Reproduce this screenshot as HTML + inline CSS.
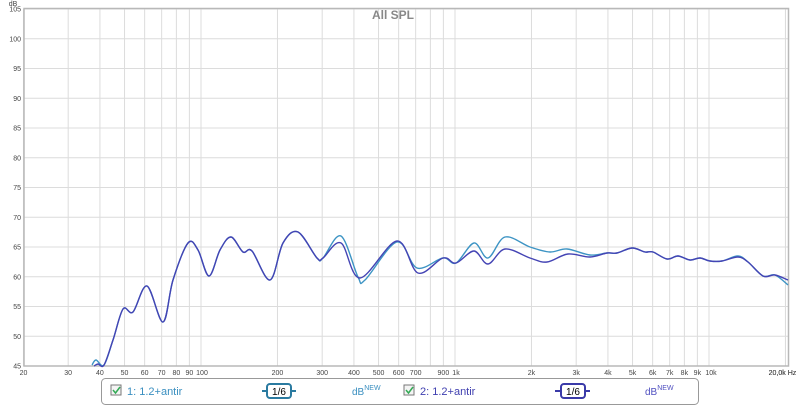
<!DOCTYPE html>
<html><head><meta charset="utf-8"><style>
html,body{margin:0;padding:0;background:#fff;width:800px;height:406px;overflow:hidden}
svg{display:block;font-family:"Liberation Sans",sans-serif}
</style></head><body>
<svg id="s" width="800" height="406" viewBox="0 0 800 406" xmlns="http://www.w3.org/2000/svg">
<rect x="0" y="0" width="800" height="406" fill="#fff"/>
<g id="grid"></g>
<rect x="24" y="8.5" width="764.5" height="357.5" fill="none" stroke="#b8b8b8" stroke-width="1.5"/>
<text x="393" y="19" font-size="12" font-weight="bold" fill="#888" text-anchor="middle">All SPL</text>
<text x="13" y="6" font-size="7" fill="#444" text-anchor="middle">dB</text>
<g id="lbl" font-size="7" fill="#444"></g>
<path id="c1" fill="none" stroke="#3d94c4" stroke-width="1.4"/>
<path id="c2" fill="none" stroke="#4444b4" stroke-width="1.4"/>
<rect x="101.5" y="378.5" width="597" height="26" rx="4" fill="#fff" stroke="#999"/>
<rect x="111" y="385" width="10" height="10" fill="#f4f4f4" stroke="#777"/>
<path d="M113 390 l2.5 3 l4.5 -6" stroke="#3a5" fill="none" stroke-width="1.5"/>
<text x="127" y="395" font-size="11" fill="#3a8fc0">1: 1.2+antir</text>
<line x1="262" y1="391" x2="296" y2="391" stroke="#2a7aa0" stroke-width="2"/>
<rect x="267" y="384" width="24" height="14" rx="3" fill="#fff" stroke="#2a7aa0" stroke-width="2"/>
<text x="279" y="395" font-size="10" fill="#000" text-anchor="middle">1/6</text>
<text x="352" y="395" font-size="10" fill="#3a8fc0">dB<tspan font-size="7" dy="-5">NEW</tspan></text>
<rect x="404" y="385" width="10" height="10" fill="#f4f4f4" stroke="#777"/>
<path d="M406 390 l2.5 3 l4.5 -6" stroke="#3a5" fill="none" stroke-width="1.5"/>
<text x="420" y="395" font-size="11" fill="#4040b0">2: 1.2+antir</text>
<line x1="555" y1="391" x2="590" y2="391" stroke="#3a3aa8" stroke-width="2"/>
<rect x="561" y="384" width="24" height="14" rx="3" fill="#fff" stroke="#3a3aa8" stroke-width="2"/>
<text x="573" y="395" font-size="10" fill="#000" text-anchor="middle">1/6</text>
<text x="645" y="395" font-size="10" fill="#5050c0">dB<tspan font-size="7" dy="-5">NEW</tspan></text>
</svg>
<script>
var NS="http://www.w3.org/2000/svg";
function el(t,a,p,txt){var e=document.createElementNS(NS,t);for(var k in a)e.setAttribute(k,a[k]);if(txt)e.textContent=txt;p.appendChild(e);return e;}
var g=document.getElementById('grid'),L=document.getElementById('lbl');
function fx(f){return 201+254*Math.log10(f/100);}
for(var v=45;v<=105;v+=5){var y=9+(105-v)*5.95;
 el('line',{x1:24,x2:788,y1:y,y2:y,stroke:'#dcdcdc','stroke-width':1},g);
 el('text',{x:21,y:y+2.5,'text-anchor':'end'},L,String(v));}
var fs=[];for(var d=10;d<=10000;d*=10)for(var m=1;m<10;m++){var f=d*m;if(f>=20&&f<=20000)fs.push(f);}fs.push(20000);
var labs={20:'20',30:'30',40:'40',50:'50',60:'60',70:'70',80:'80',90:'90',100:'100',200:'200',300:'300',400:'400',500:'500',600:'600',700:'700',900:'900',1000:'1k',2000:'2k',3000:'3k',4000:'4k',5000:'5k',6000:'6k',7000:'7k',8000:'8k',9000:'9k',10000:'10k',20000:'20,0k Hz'};
fs.forEach(function(f){var x=fx(f);el('line',{x1:x,x2:x,y1:9,y2:366,stroke:'#dcdcdc','stroke-width':1},g);
 if(labs[f]){var t=labs[f];var anc=(f==20000)?'middle':'middle';var xx=x;if(f==100)xx=x+1;if(f==1000)xx=x+1;if(f==10000)xx=x+2;if(f==20000)xx=x-3;
 el('text',{x:xx,y:375,'text-anchor':anc},L,t);}});
var base=[[92,365],[97,361],[104,365],[113,340],[123,309],[133,312],[147,286],[163,322],[173,280],[188,243],[198,250],[209,276],[220,250],[231,237],[243,252],[252,251],[270,280],[283,243],[298,232],[317,258],[323,258]];
var t1=base.slice();t1[1]=[96,360];
t1=t1.concat([[341,236],[358,277],[365,280],[397,242],[417,268],[443,258],[456,263],[474,243],[488,258],[505,237],[530,247],[550,252],[567,249],[590,255],[607,253],[617,253],[632,248],[645,252],[653,252],[667,259],[678,256],[690,260],[700,258],[710,261],[722,261],[738,256],[748,262],[763,276],[775,275],[788,285]]);
var t2=base.slice();t2[0]=[94,366];t2[1]=[98,364];
t2=t2.concat([[341,243],[360,278],[397,241],[418,273],[443,258],[456,263],[474,251],[488,264],[505,249],[530,258],[547,262],[568,254],[590,257],[607,253],[617,253],[632,248],[645,252],[653,252],[667,259],[678,256],[690,260],[700,258],[710,261],[722,261],[738,257],[748,262],[763,276],[775,275],[788,280]]);
function path(p){var d='M'+p[0][0]+' '+p[0][1];for(var i=0;i<p.length-1;i++){var a=p[i-1]||p[i],b=p[i],c=p[i+1],e=p[i+2]||c;
 d+=' C'+(b[0]+(c[0]-a[0])/6).toFixed(1)+' '+(b[1]+(c[1]-a[1])/6).toFixed(1)+' '+(c[0]-(e[0]-b[0])/6).toFixed(1)+' '+(c[1]-(e[1]-b[1])/6).toFixed(1)+' '+c[0]+' '+c[1];}return d;}
document.getElementById('c1').setAttribute('d',path(t1));
document.getElementById('c2').setAttribute('d',path(t2));
</script>
</body></html>
